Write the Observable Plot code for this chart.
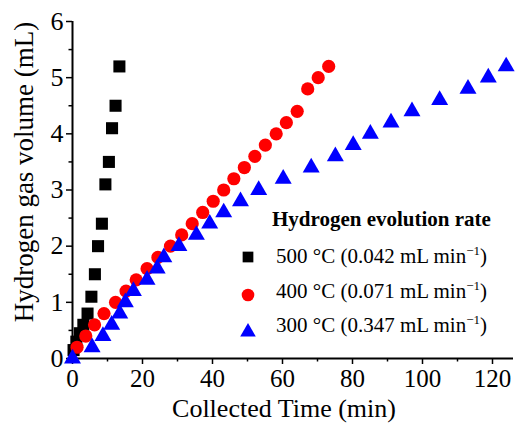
<!DOCTYPE html>
<html>
<head>
<meta charset="utf-8">
<script src="https://cdn.jsdelivr.net/npm/d3@7"></script>
<script src="https://cdn.jsdelivr.net/npm/@observablehq/plot@0.6"></script>
<style>
  html, body { margin: 0; padding: 0; background: white; }
  #wrap { position: relative; width: 515px; height: 423px; }
  #wrap svg { position: absolute; left: 0; top: 0; }
</style>
</head>
<body>
<div id="wrap"></div>
<script>
// ---- data ----
const series500_time = [0.3, 1.1, 2.1, 3.1, 4.3, 5.4, 6.4, 7.3, 8.4, 9.4, 10.4, 11.3, 12.3, 13.4];
const series500_vol  = [0.15, 0.3, 0.45, 0.6, 0.8, 1.1, 1.5, 2.0, 2.4, 3.1, 3.5, 4.1, 4.5, 5.2];

const series400_time = [1.3, 3.8, 6.3, 9.0, 12.3, 15.3, 18.2, 21.3, 24.4, 28.0, 31.2, 34.2, 37.2, 40.2, 43.2, 46.1, 49.1, 52.1, 55.1, 58.2, 61.1, 64.2, 67.2, 70.2, 73.2];
const series400_vol  = [0.2, 0.4, 0.6, 0.8, 1.0, 1.2, 1.4, 1.6, 1.8, 2.0, 2.2, 2.4, 2.6, 2.8, 3.0, 3.2, 3.4, 3.6, 3.8, 4.0, 4.2, 4.4, 4.8, 5.0, 5.2];

const series300_time = [0, 5.6, 8.7, 11.2, 13.5, 15.1, 17.4, 21.3, 24.2, 26.1, 30.4, 35.4, 39.2, 43.2, 48.0, 53.2, 60.2, 68.2, 75.1, 80.2, 85.1, 91.0, 97.0, 104.9, 113.0, 118.8, 123.9];
const series300_vol  = [0, 0.2, 0.4, 0.6, 0.8, 1.0, 1.2, 1.4, 1.6, 1.8, 2.0, 2.2, 2.4, 2.6, 2.8, 3.0, 3.2, 3.4, 3.6, 3.8, 4.0, 4.2, 4.4, 4.6, 4.8, 5.0, 5.2];

const xTicks = [0, 20, 40, 60, 80, 100, 120];
const xMinorTicks = [10, 30, 50, 70, 90, 110];
const yTicks = [0, 1, 2, 3, 4, 5, 6];
const yMinorTicks = [0.5, 1.5, 2.5, 3.5, 4.5, 5.5];

const xTitle = "Collected Time (min)";
const yTitle = "Hydrogen gas volume (mL)";
const legendTitle = "Hydrogen evolution rate";
const legendLabels = ["500 °C (0.042 mL min", "400 °C (0.071 mL min", "300 °C (0.347 mL min"];
const legendSymbols = ["square", "circle", "triangle"];
const legendColors = ["#000000", "#ff0000", "#0000ff"];

// ---- build tables ----
const d500 = series500_time.map((t, i) => ({t, v: series500_vol[i]}));
const d400 = series400_time.map((t, i) => ({t, v: series400_vol[i]}));
const d300 = series300_time.map((t, i) => ({t, v: series300_vol[i]}));

const FONT = "'Liberation Serif', 'Times New Roman', serif";
const intFmt = d => String(d);

const chart = Plot.plot({
  width: 515,
  height: 423,
  marginLeft: 72,
  marginRight: 2,
  marginTop: 21,
  marginBottom: 65,
  x: {domain: [0, 126]},
  y: {domain: [0, 6]},
  style: {fontFamily: FONT, fontSize: "26px", color: "black", background: "white", overflow: "visible"},
  marks: [
    Plot.axisX({ticks: xTicks, tickFormat: intFmt, tickSize: 6, tickPadding: 5, label: null, strokeWidth: 1.5, fontSize: 25}),
    Plot.axisX({ticks: xMinorTicks, tickSize: 3.5, text: null, label: null, strokeWidth: 1.5}),
    Plot.axisY({ticks: yTicks, tickFormat: intFmt, tickSize: 6, tickPadding: 3, label: null, strokeWidth: 1.5, fontSize: 26}),
    Plot.axisY({ticks: yMinorTicks, tickSize: 3.5, text: null, label: null, strokeWidth: 1.5}),
    Plot.ruleX([0], {stroke: "black", strokeWidth: 2}),
    Plot.ruleY([0], {stroke: "black", strokeWidth: 2}),
    Plot.dot(d500, {x: "t", y: "v", symbol: "square", r: 6.8, fill: legendColors[0], stroke: "none"}),
    Plot.dot(d400, {x: "t", y: "v", symbol: "circle", r: 6.6, fill: legendColors[1], stroke: "none"}),
    Plot.dot(d300, {x: "t", y: "v", symbol: "triangle", r: 6.3, fill: legendColors[2], stroke: "none"})
  ]
});

const wrap = document.getElementById("wrap");
wrap.appendChild(chart);

// ---- overlay: axis titles and legend ----
const ov = d3.select(wrap).append("svg")
  .attr("width", 515).attr("height", 423)
  .style("font-family", FONT)
  .style("pointer-events", "none");

ov.append("text")
  .attr("x", 284).attr("y", 417)
  .attr("text-anchor", "middle")
  .attr("font-size", 26)
  .text(xTitle);

ov.append("text")
  .attr("transform", "translate(33,172) rotate(-90)")
  .attr("text-anchor", "middle")
  .attr("font-size", 27)
  .text(yTitle);

ov.append("text")
  .attr("x", 272).attr("y", 226)
  .attr("font-size", 21)
  .attr("font-weight", "bold")
  .text(legendTitle);

const baselines = [263, 297.5, 331.5];
const markerY = [257, 295, 332];
const symMap = {square: d3.symbolSquare, circle: d3.symbolCircle, triangle: d3.symbolTriangle};
const symSize = {square: 115, circle: 125, triangle: 105};
legendLabels.forEach((lab, i) => {
  const sym = legendSymbols[i];
  ov.append("path")
    .attr("transform", `translate(248,${markerY[i]})`)
    .attr("d", d3.symbol(symMap[sym], symSize[sym])())
    .attr("fill", legendColors[i]);
  const t = ov.append("text")
    .attr("x", 276).attr("y", baselines[i])
    .attr("font-size", 21);
  t.append("tspan").text(lab);
  t.append("tspan").attr("font-size", 13).attr("dy", -8).text("\u22121");
  t.append("tspan").attr("dy", 8).text(")");
});
</script>
</body>
</html>
